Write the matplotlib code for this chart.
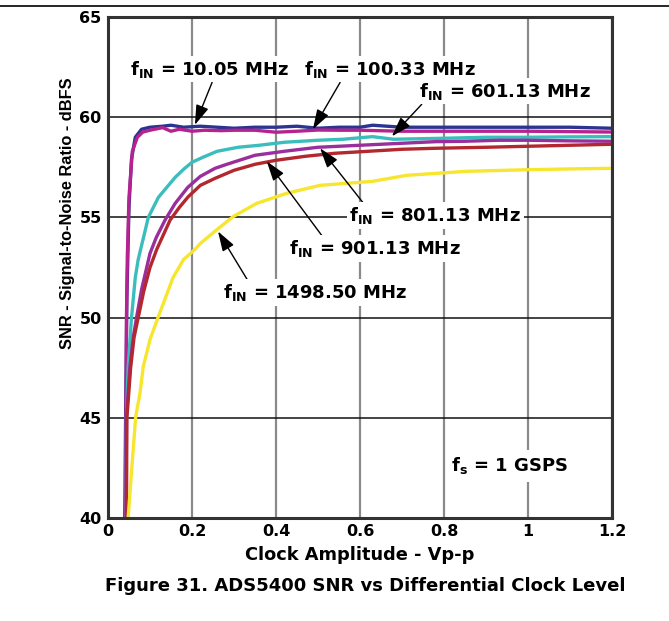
# ADS5400 SNR vs differential clock level

import matplotlib
matplotlib.use('Agg')
import matplotlib.pyplot as plt
from matplotlib.lines import Line2D

plt.rcParams['font.family'] = ['DejaVu Sans']
plt.rcParams['font.weight'] = 'bold'
plt.rcParams['mathtext.fontset'] = 'custom'
plt.rcParams['mathtext.rm'] = 'DejaVu Sans:bold'
plt.rcParams['mathtext.bf'] = 'DejaVu Sans:bold'
plt.rcParams['mathtext.it'] = 'DejaVu Sans:bold'

# Data (clock amplitude Vp-p, SNR dBFS)
x_10 = [0.040, 0.042, 0.045, 0.050, 0.056, 0.065, 0.080, 0.10, 0.13, 0.15, 0.18, 0.22, 0.26,
        0.30, 0.35, 0.40, 0.45, 0.50, 0.55, 0.60, 0.63, 0.70, 0.80, 0.90, 1.0, 1.1, 1.2]
snr_10 = [40, 45, 51, 55.5, 57.9, 59.0, 59.4, 59.5, 59.55, 59.6, 59.5, 59.55, 59.5,
          59.45, 59.5, 59.5, 59.55, 59.45, 59.5, 59.5, 59.6, 59.5, 59.5, 59.5, 59.5, 59.5, 59.45]

x_100 = [0.042, 0.043, 0.044, 0.046, 0.050, 0.058, 0.070, 0.083, 0.10, 0.13, 0.15, 0.17, 0.20, 0.23,
         0.27, 0.30, 0.35, 0.40, 0.45, 0.50, 0.55, 0.60, 0.70, 0.80, 0.90, 1.0, 1.1, 1.2]
snr_100 = [40, 45, 50, 53, 56, 58.3, 59.0, 59.26, 59.35, 59.48, 59.3, 59.4, 59.3, 59.35,
           59.33, 59.35, 59.35, 59.25, 59.3, 59.36, 59.35, 59.35, 59.3, 59.3, 59.3, 59.3, 59.28, 59.26]

x_601 = [0.043, 0.044, 0.048, 0.056, 0.065, 0.072, 0.080, 0.096, 0.12, 0.14, 0.16, 0.18, 0.20, 0.226,
         0.26, 0.31, 0.36, 0.42, 0.50, 0.56, 0.63, 0.68, 0.80, 0.90, 1.0, 1.1, 1.2]
snr_601 = [40, 45, 47.5, 50.0, 52.0, 52.9, 53.6, 55.0, 56.0, 56.5, 57.0, 57.4, 57.75, 58.0,
           58.3, 58.5, 58.6, 58.75, 58.85, 58.9, 59.03, 58.9, 58.95, 59.0, 59.0, 59.02, 59.03]

x_801 = [0.043, 0.044, 0.052, 0.060, 0.068, 0.080, 0.100, 0.115, 0.136, 0.16, 0.19, 0.22, 0.255,
         0.283, 0.35, 0.42, 0.50, 0.60, 0.70, 0.78, 0.85, 0.93, 1.0, 1.1, 1.2]
snr_801 = [40, 45, 47.5, 49, 50.0, 51.4, 53.2, 54.0, 54.87, 55.7, 56.5, 57.05, 57.45,
           57.65, 58.1, 58.3, 58.5, 58.6, 58.7, 58.78, 58.8, 58.85, 58.85, 58.82, 58.8]

x_901 = [0.044, 0.045, 0.054, 0.062, 0.072, 0.085, 0.10, 0.116, 0.148, 0.17, 0.191, 0.22, 0.255,
         0.30, 0.35, 0.40, 0.47, 0.54, 0.62, 0.70, 0.78, 0.90, 1.0, 1.1, 1.2]
snr_901 = [40, 45, 47.5, 49, 50.0, 51.3, 52.5, 53.4, 54.87, 55.5, 56.03, 56.6, 56.95,
           57.35, 57.65, 57.85, 58.05, 58.2, 58.3, 58.4, 58.45, 58.5, 58.55, 58.6, 58.65]

x_1498 = [0.048, 0.055, 0.060, 0.066, 0.076, 0.084, 0.10, 0.12, 0.155, 0.18, 0.207, 0.22, 0.26,
          0.298, 0.354, 0.425, 0.505, 0.63, 0.711, 0.854, 1.0, 1.1, 1.2]
snr_1498 = [40, 42, 43.4, 45.05, 46.2, 47.55, 48.9, 50.05, 52.0, 52.9, 53.4, 53.7, 54.4,
            55.04, 55.7, 56.2, 56.6, 56.8, 57.1, 57.3, 57.38, 57.42, 57.45]

x_ticks = [0, 0.2, 0.4, 0.6, 0.8, 1.0, 1.2]
x_tick_labels = ['0', '0.2', '0.4', '0.6', '0.8', '1', '1.2']
y_ticks = [40, 45, 50, 55, 60, 65]

fig = plt.figure(figsize=(6.69, 6.21), dpi=100)
ax = fig.add_axes([0.1614, 0.1659, 0.7534, 0.8067])

ax.plot(x_10, snr_10, color='#2b3590', lw=2.4)
ax.plot(x_100, snr_100, color='#b62290', lw=2.4)
ax.plot(x_601, snr_601, color='#3cbdbd', lw=2.4)
ax.plot(x_801, snr_801, color='#9a2e9c', lw=2.4)
ax.plot(x_901, snr_901, color='#b3272e', lw=2.4)
ax.plot(x_1498, snr_1498, color='#f7e62e', lw=2.4)

ax.set_xlim(0, 1.2)
ax.set_ylim(40, 65)
ax.set_xticks(x_ticks)
ax.set_xticklabels(x_tick_labels)
ax.set_yticks(y_ticks)
ax.tick_params(length=0, labelsize=11.5, pad=4.5)
for lbl in ax.get_xticklabels() + ax.get_yticklabels():
    lbl.set_fontweight('bold')

# grid: vertical grey, horizontal black
ax.xaxis.grid(True, color='#8a8a8a', lw=1.6)
ax.yaxis.grid(True, color='#111111', lw=1.1)
ax.set_axisbelow(True)
for s in ax.spines.values():
    s.set_linewidth(2.2)
    s.set_color('#333333')

ax.set_xlabel('Clock Amplitude - Vp-p', fontsize=12.8, fontweight='bold', labelpad=5)
fig.text(0.101, 0.657, 'SNR - Signal-to-Noise Ratio - dBFS', rotation=90, fontsize=11.8,
         fontweight='heavy', ha='center', va='center', family='Liberation Sans')

box = dict(boxstyle='square,pad=0.15', fc='white', ec='none')
arrow = dict(arrowstyle='-|>,head_length=0.55,head_width=0.18', color='black', lw=1.0,
             mutation_scale=22, shrinkA=0, shrinkB=0)

def label(txt, xy, xytext, rel):
    a = dict(arrow)
    a['relpos'] = rel
    ax.annotate(r'f$_{\mathbf{IN}}$ = ' + txt, xy=xy, xytext=xytext, fontsize=13,
                fontweight='bold', ha='center', va='center', bbox=box, arrowprops=a)

label('10.05 MHz', (0.207, 59.62), (0.243, 62.4), (0.52, 0))
label('100.33 MHz', (0.488, 59.4), (0.671, 62.4), (0.22, 0))
label('601.13 MHz', (0.676, 59.05), (0.945, 61.3), (0.03, 0))
label('801.13 MHz', (0.505, 58.45), (0.779, 55.1), (0.09, 1))
label('901.13 MHz', (0.378, 57.8), (0.636, 53.45), (0.2, 1))
label('1498.50 MHz', (0.262, 54.3), (0.493, 51.25), (0.14, 1))

ax.text(0.957, 42.6, r'f$_{\mathbf{s}}$ = 1 GSPS', fontsize=13, fontweight='bold',
        ha='center', va='center', bbox=dict(boxstyle='square,pad=0.3', fc='white', ec='none'))

fig.add_artist(Line2D([0, 1], [0.990, 0.990], color='black', lw=1.2))
fig.text(0.546, 0.056, 'Figure 31. ADS5400 SNR vs Differential Clock Level', fontsize=13,
         fontweight='bold', ha='center', va='center')

plt.savefig('out.png', dpi=100)
